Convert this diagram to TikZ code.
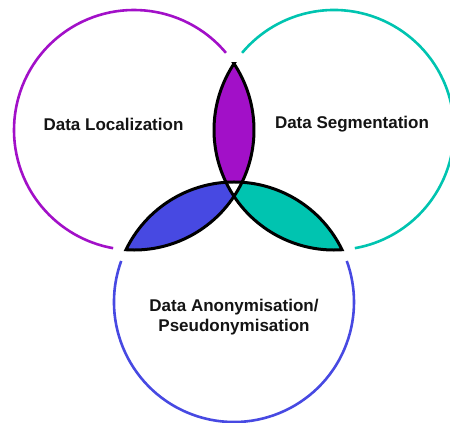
\documentclass[tikz,border=0pt]{standalone}
\usepackage{fontspec}
\setmainfont{Liberation Sans}
\usetikzlibrary{calc}

\definecolor{violetfill}{RGB}{162,16,200}
\definecolor{indigofill}{RGB}{71,73,226}
\definecolor{tealfill}{RGB}{0,196,176}

\tikzset{
  ring/.style={line width=2.6pt, line cap=butt},
  lens/.style={draw=black, line width=3pt, line join=miter},
  label/.style={font=\fontsize{17}{20}\selectfont\bfseries, inner sep=0pt, align=center, text=black!92}
}

\begin{document}
\begin{tikzpicture}[x=1pt,y=1pt]
  \useasboundingbox (0,0) rectangle (450,423);

  % circle centres (radius 120)
  \coordinate (A) at (134,293);
  \coordinate (B) at (334,293);
  \coordinate (C) at (234,121);

  % outer arcs of the three circles, open near the crossings
  \draw[ring, violetfill] ($(A)+(40:120)$) arc[start angle=40, end angle=260, radius=120];
  \draw[ring, tealfill]   ($(B)+(-80:120)$) arc[start angle=-80, end angle=140, radius=120];
  \draw[ring, indigofill] ($(C)+(160:120)$) arc[start angle=160, end angle=380, radius=120];

  % overlap of left and right circles
  \filldraw[lens, fill=violetfill]
    ($(B)+(146.44:120)$) arc[start angle=146.44, end angle=205.82, radius=120]
    arc[start angle=93.83, end angle=86.17, radius=120]
    arc[start angle=-25.82, end angle=33.56, radius=120] -- cycle;

  % overlap of left and bottom circles
  \filldraw[lens, fill=indigofill]
    ($(C)+(154.18:120)$) arc[start angle=154.18, end angle=93.83, radius=120]
    arc[start angle=205.82, end angle=213.56, radius=120]
    arc[start angle=-33.56, end angle=-93.83, radius=120] -- cycle;

  % overlap of right and bottom circles
  \filldraw[lens, fill=tealfill]
    ($(C)+(25.82:120)$) arc[start angle=25.82, end angle=86.17, radius=120]
    arc[start angle=-25.82, end angle=-33.56, radius=120]
    arc[start angle=213.56, end angle=273.83, radius=120] -- cycle;

  % labels
  \node[label] (loc) at (113.5,299) {Data Localization};
  \node[label] (seg) at (352,299) {Data Segmentation};
  \node[label] (anon) at (234,106) {Data Anonymisation/\\Pseudonymisation};
\end{tikzpicture}
\end{document}
